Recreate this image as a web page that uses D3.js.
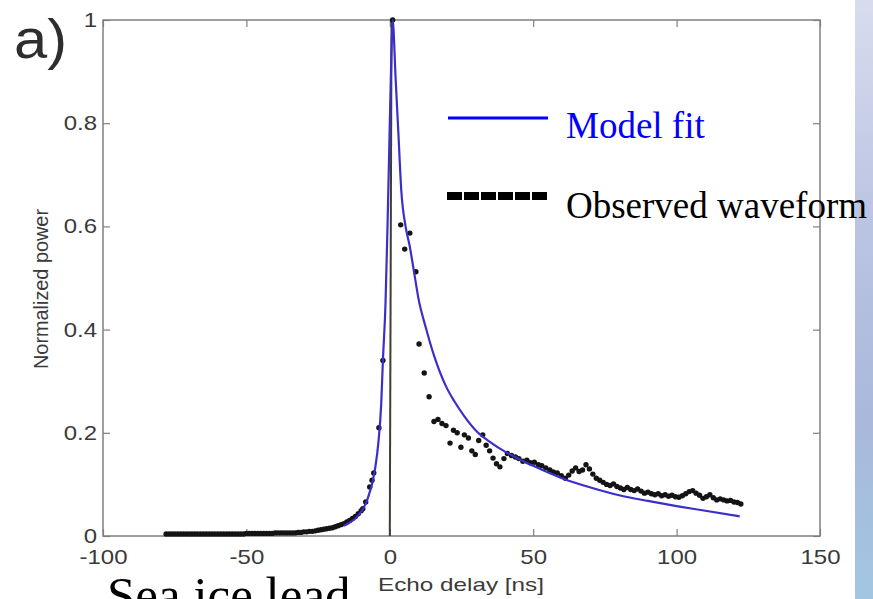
<!DOCTYPE html>
<html>
<head>
<meta charset="utf-8">
<script src="https://cdn.jsdelivr.net/npm/d3@7"></script>
<style>
  html, body { margin: 0; padding: 0; background: #ffffff; }
  svg { display: block; }
</style>
</head>
<body>
<svg id="chart" width="873" height="599"></svg>
<script>
// ---------- DATA ----------
const xTickValues = [-100, -50, 0, 50, 100, 150];
const xTickLabels = ["-100", "-50", "0", "50", "100", "150"];
const yTickValues = [0, 0.2, 0.4, 0.6, 0.8, 1];
const yTickLabels = ["0", "0.2", "0.4", "0.6", "0.8", "1"];

// Observed waveform (dots)
const obsDelay = [
  -78,-77,-76,-75,-74,-73,-72,-71,-70,-69,-68,-67,-66,-65,-64,-63,-62,-61,-60,-59,-58,-57,-56,-55,-54,-53,-52,-51,
  -50,-49,-48,-47,-46,-45,-44,-43,-42,-41,
  -40,-39,-38,-37,-36,-35,-34,-33,
  -32,-31,-30,-29,-28,-27,-26,-25,-24,-23,-22,-21,-20,-19,-18,-17,-16,-15,-14,-13,-12,-11,-10,
  -9.4,-8.4,-7.0,-6.2,-5.6,-3.8,-2.4,1.0,
  3.8,5.2,7.0,9.1,10.2,12.0,13.7,
  15.4,16.8,18.2,19.6,21.0,22.2,23.5,24.8,26.0,27.4,28.6,29.8,31.0,32.4,33.6,34.8,36.0,37.2,38.4,39.8,
  41.0,42.4,43.8,45.0,46.4,47.8,49.0,50.4,51.8,53.0,54.4,55.8,57.0,58.4,59.8,61.2,62.4,63.6,64.8,66.0,
  67.2,68.4,69.6,70.8,72.0,73.2,74.4,75.6,76.8,78.0,79.2,80.4,81.6,82.8,84.0,85.2,86.4,87.6,88.8,90.0,
  91.2,92.4,93.6,94.8,96.0,97.2,98.4,99.6,100.8,102.0,103.2,104.4,105.6,106.8,108.0,109.2,110.4,111.6,
  112.8,114.0,115.2,116.4,117.6,118.8,120.0,121.2,122.4
];
const obsPower = [
  0.004,0.004,0.004,0.004,0.004,0.004,0.004,0.004,0.004,0.004,0.004,0.004,0.004,0.004,0.004,0.004,0.004,0.004,0.004,0.004,0.004,0.004,0.004,0.004,0.004,0.004,0.004,0.004,
  0.005,0.005,0.005,0.005,0.005,0.005,0.005,0.005,0.005,0.005,
  0.006,0.006,0.006,0.006,0.006,0.006,0.006,0.006,
  0.007,0.007,0.008,0.008,0.009,0.009,0.010,0.011,0.012,0.013,0.014,0.015,0.016,0.018,0.020,0.022,0.024,0.027,0.030,0.034,0.038,0.043,0.049,
  0.053,0.066,0.095,0.108,0.122,0.210,0.340,1.000,
  0.603,0.556,0.587,0.512,0.372,0.316,0.270,
  0.222,0.226,0.218,0.214,0.180,0.205,0.200,0.172,0.196,0.190,0.165,0.158,0.185,0.196,0.176,0.165,0.151,0.140,0.134,0.150,
  0.160,0.156,0.153,0.150,0.145,0.147,0.142,0.143,0.138,0.136,0.132,0.128,0.124,0.122,0.117,0.112,0.118,0.126,0.132,0.125,
  0.128,0.138,0.130,0.120,0.112,0.108,0.104,0.100,0.098,0.101,0.096,0.093,0.090,0.094,0.090,0.088,0.091,0.087,0.083,0.085,
  0.082,0.080,0.082,0.078,0.080,0.077,0.079,0.076,0.075,0.078,0.082,0.086,0.088,0.083,0.079,0.073,0.076,0.080,
  0.074,0.070,0.072,0.070,0.068,0.069,0.066,0.065,0.062
];

// Model fit (line)
const modelDelay = [-16,-14,-12,-10,-9,-8,-7,-6,-5,-4,-3,-2.4,-1.5,-0.8,0,0.5,1,2,3,4,5.5,7,8.5,10,12.5,15.4,19.6,22.4,26,30.8,35,40,45.8,50,60,70,80,90,100,110,122];
const modelPower = [0.020,0.026,0.034,0.047,0.056,0.068,0.085,0.105,0.135,0.180,0.255,0.340,0.450,0.600,0.800,0.920,1.000,0.890,0.780,0.670,0.600,0.560,0.510,0.460,0.405,0.350,0.290,0.262,0.232,0.200,0.182,0.164,0.147,0.136,0.112,0.094,0.079,0.068,0.058,0.049,0.038];

const legendLabels = ["Model fit", "Observed waveform"];

// ---------- DRAW ----------
const svg = d3.select("#chart");
const W = 873, H = 599;

// background strip at right edge
const defs = svg.append("defs");
const grad = defs.append("linearGradient").attr("id", "strip").attr("x1", 0).attr("y1", 0).attr("x2", 0).attr("y2", 1);
grad.append("stop").attr("offset", "0%").attr("stop-color", "#d8dcee");
grad.append("stop").attr("offset", "35%").attr("stop-color", "#bcc5e3");
grad.append("stop").attr("offset", "70%").attr("stop-color", "#a9b8dc");
grad.append("stop").attr("offset", "100%").attr("stop-color", "#a2c6e2");
svg.append("rect").attr("x", 855).attr("y", 0).attr("width", W - 855).attr("height", H).attr("fill", "url(#strip)");

const margin = { left: 103, right: 820, top: 20, bottom: 536 };
const x = d3.scaleLinear().domain([-100, 150]).range([margin.left, margin.right]);
const y = d3.scaleLinear().domain([0, 1]).range([margin.bottom, margin.top]);

const axisColor = "#808080";
const labelColor = "#3a3a3a";
const sansFont = "'Liberation Sans', Arial, Helvetica, sans-serif";
const serifFont = "'Liberation Serif', 'Times New Roman', serif";

// plot box
svg.append("rect")
  .attr("x", x(-100)).attr("y", y(1))
  .attr("width", x(150) - x(-100)).attr("height", y(0) - y(1))
  .attr("fill", "#ffffff").attr("stroke", axisColor).attr("stroke-width", 1.5);

function styleAxis(g) {
  g.select(".domain").remove();
  g.selectAll(".tick line").attr("stroke", axisColor).attr("stroke-width", 1.2);
  g.selectAll(".tick text").attr("fill", labelColor).style("font-family", sansFont).style("font-size", "20px")
    .attr("transform", "scale(1.2,1)");
}

svg.append("g").attr("transform", `translate(0,${y(0)})`)
  .call(d3.axisBottom(x).tickValues(xTickValues).tickFormat((d, i) => xTickLabels[i]).tickSizeInner(-7).tickSizeOuter(0).tickPadding(14))
  .call(styleAxis);
svg.append("g").attr("transform", `translate(0,${y(1)})`)
  .call(d3.axisTop(x).tickValues(xTickValues).tickFormat("").tickSizeInner(-7).tickSizeOuter(0))
  .call(styleAxis);
svg.append("g").attr("transform", `translate(${x(-100)},0)`)
  .call(d3.axisLeft(y).tickValues(yTickValues).tickFormat((d, i) => yTickLabels[i]).tickSizeInner(-7).tickSizeOuter(0).tickPadding(5))
  .call(styleAxis);
svg.append("g").attr("transform", `translate(${x(150)},0)`)
  .call(d3.axisRight(y).tickValues(yTickValues).tickFormat("").tickSizeInner(-7).tickSizeOuter(0))
  .call(styleAxis);

// vertical reference line at zero delay
svg.append("line")
  .attr("x1", x(0)).attr("x2", x(0.6))
  .attr("y1", y(0)).attr("y2", y(1))
  .attr("stroke", "#3e3e34").attr("stroke-width", 2);

// observed dots
const obs = obsDelay.map((d, i) => ({ d, p: obsPower[i] }));
svg.append("g").selectAll("circle").data(obs).join("circle")
  .attr("cx", d => x(d.d)).attr("cy", d => y(d.p)).attr("r", 2.7)
  .attr("fill", "#141414");

// model line
const model = modelDelay.map((d, i) => ({ d, p: modelPower[i] }));
svg.append("path").datum(model)
  .attr("d", d3.line().x(d => x(d.d)).y(d => y(d.p)).curve(d3.curveMonotoneX))
  .attr("fill", "none").attr("stroke", "#3a2fc8").attr("stroke-width", 2.2);

// axis titles
svg.append("text").attr("x", 461).attr("y", 591).attr("text-anchor", "middle")
  .attr("textLength", 166).attr("lengthAdjust", "spacingAndGlyphs")
  .style("font-family", sansFont).style("font-size", "19px").attr("fill", labelColor)
  .text("Echo delay [ns]");
svg.append("text").attr("transform", "translate(48,289) rotate(-90)").attr("text-anchor", "middle")
  .attr("textLength", 160).attr("lengthAdjust", "spacingAndGlyphs")
  .style("font-family", sansFont).style("font-size", "20px").attr("fill", labelColor)
  .text("Normalized power");

// panel label
svg.append("text").attr("x", 14).attr("y", 58)
  .attr("textLength", 53).attr("lengthAdjust", "spacingAndGlyphs")
  .style("font-family", sansFont).style("font-size", "55px").attr("fill", "#2e2e2e")
  .text("a)");

// legend
svg.append("line").attr("x1", 448).attr("x2", 548).attr("y1", 118).attr("y2", 118)
  .attr("stroke", "#0000ff").attr("stroke-width", 3);
svg.append("text").attr("x", 566).attr("y", 138)
  .style("font-family", serifFont).style("font-size", "37px").attr("fill", "#0000ff")
  .text(legendLabels[0]);
svg.append("line").attr("x1", 447).attr("x2", 549).attr("y1", 196).attr("y2", 196)
  .attr("stroke", "#000000").attr("stroke-width", 8).attr("stroke-dasharray", "15,2");
svg.append("text").attr("x", 566).attr("y", 218)
  .style("font-family", serifFont).style("font-size", "37px").attr("fill", "#000000")
  .text(legendLabels[1]);

// caption below (cut off by the frame, as in the reference)
svg.append("text").attr("x", 107).attr("y", 612)
  .style("font-family", serifFont).style("font-size", "51px").attr("fill", "#000000")
  .text("Sea ice lead");
</script>
</body>
</html>
